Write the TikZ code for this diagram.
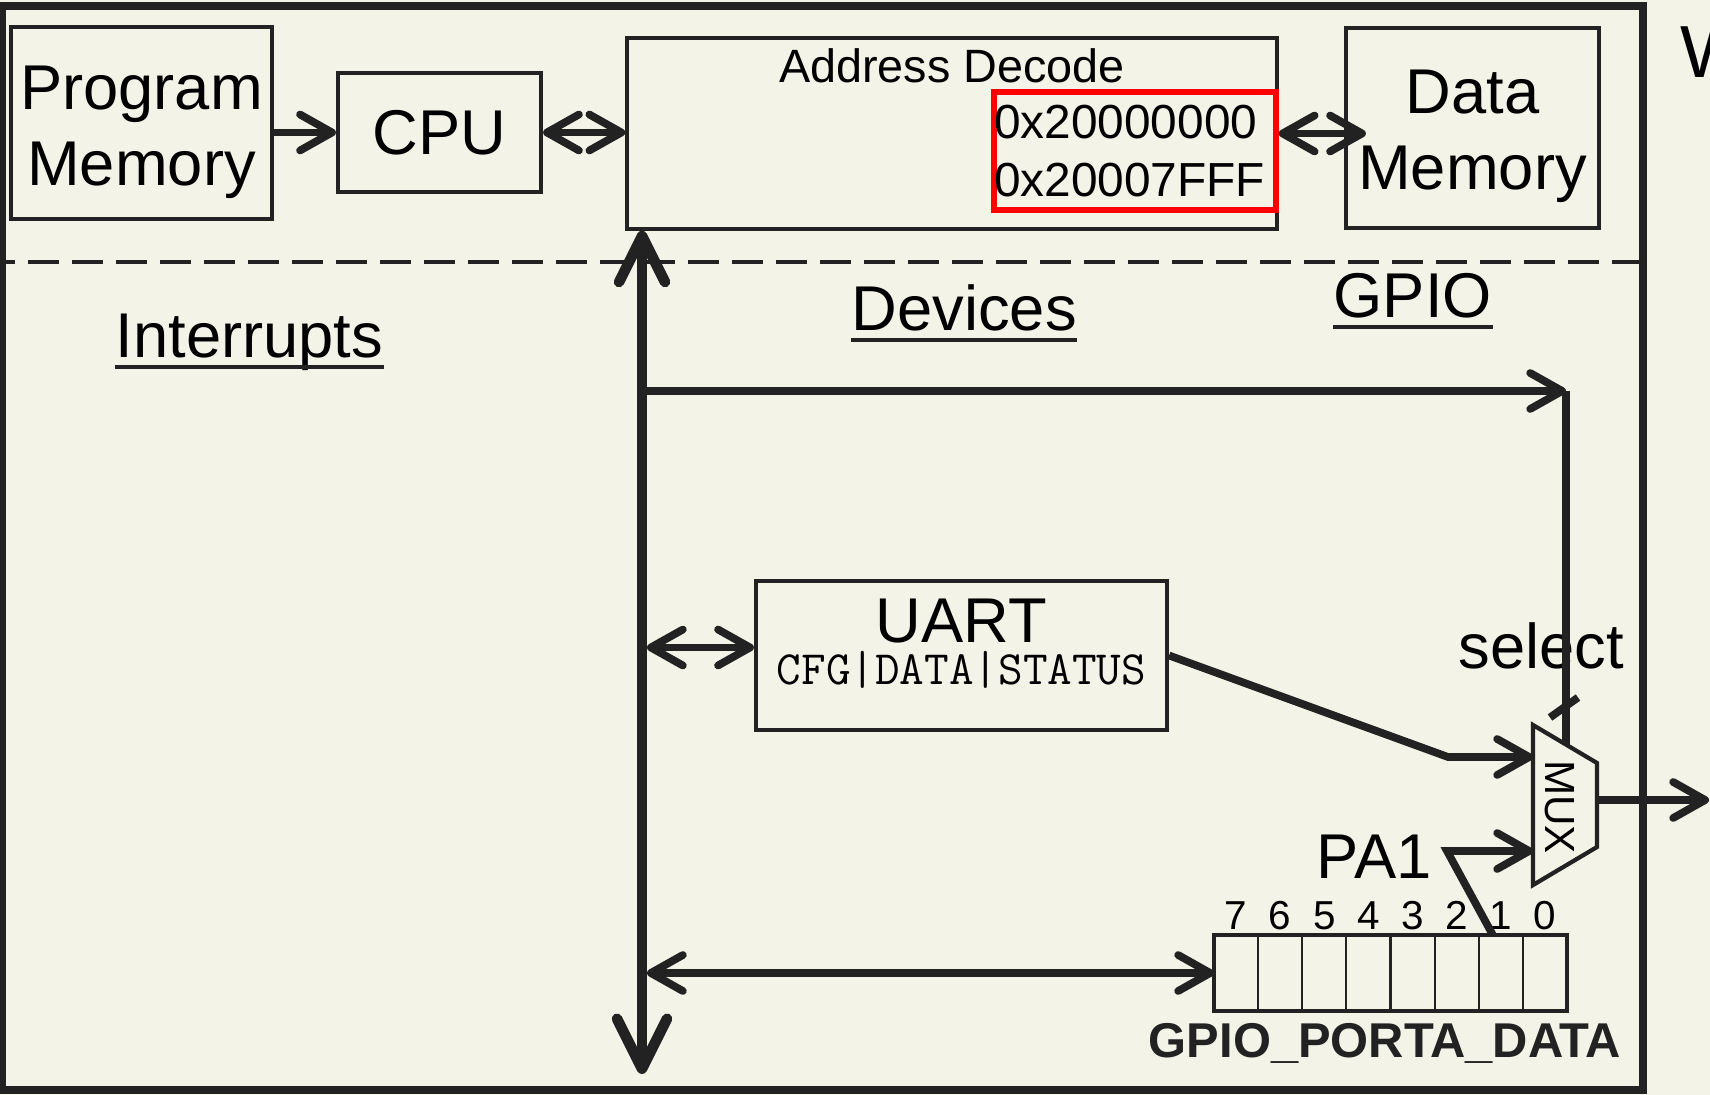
\documentclass[tikz,border=0pt]{standalone}
\usepackage{fontspec}
\setmainfont{Liberation Sans}
\usetikzlibrary{arrows.meta, positioning, calc}
\definecolor{paper}{RGB}{243,243,232}
\definecolor{ink}{RGB}{34,34,34}

\begin{document}
\begin{tikzpicture}[
    block/.style={draw=ink, line width=1.2pt, inner sep=0pt, align=center, font=\fontsize{18}{21.6}\selectfont},
    boxlbl/.style={inner sep=0pt, align=center, font=\fontsize{18}{21.6}\selectfont},
    heading/.style={inner sep=0pt, anchor=base west, font=\fontsize{18}{21.6}\selectfont},
    uline/.style={draw=ink, line width=1.1pt},
    wire/.style={draw=ink, line width=2.2pt},
    arrow/.style={-{Straight Barb[length=3.2mm, width=3.6mm, round]}, line width=2.2pt, draw=ink},
    darrow/.style={{Straight Barb[length=3.2mm, width=3.6mm, round]}-{Straight Barb[length=3.2mm, width=3.6mm, round]}, line width=2.2pt, draw=ink},
    bus/.style={{Straight Barb[length=4.6mm, width=4.6mm, round]}-{Straight Barb[length=5mm, width=5mm, round]}, line width=3pt, draw=ink},
    cell/.style={draw=ink, line width=0.6pt, minimum width=0.44125cm, minimum height=0.76cm, inner sep=0pt, outer sep=0pt},
    bitlbl/.style={inner sep=0pt, anchor=base, font=\fontsize{11.5}{13}\selectfont},
]
\useasboundingbox (0,0) rectangle (17.10,-10.95);
\fill[paper] (0,0) rectangle (17.10,-10.95);

% frame and split
\draw[ink, line width=2.2pt] (0.02,-0.06) rectangle (16.43,-10.90);
\draw[ink, line width=1.3pt, dash pattern=on 0.31cm off 0.13cm, dash phase=0.18cm] (0.02,-2.62) -- (16.43,-2.62);

% top row
\node[block, minimum width=2.61cm, minimum height=1.92cm] (progmem) at (1.415,-1.23) {};
\node[boxlbl] (progmemlbl) at ([yshift=-0.09cm]progmem.center) {Program\\Memory};
\node[block, minimum width=2.03cm, minimum height=1.19cm] (cpu) at (4.395,-1.325) {CPU};
\node[block, line width=1pt, minimum width=6.50cm, minimum height=1.91cm] (addr) at (9.52,-1.335) {};
\node[inner sep=0pt, anchor=base, font=\fontsize{13.3}{16}\selectfont] (addrlbl) at ([yshift=-0.46cm]addr.north) {Address Decode};
\node[draw=red, line width=1.5pt, minimum width=2.82cm, minimum height=1.18cm, inner sep=0pt] (range) at (11.35,-1.51) {};
\node[inner sep=0pt, anchor=north west, align=left, font=\fontsize{13.6}{16.4}\selectfont] (rangetxt) at ([shift={(0.02,-0.15)}]range.north west) {0x20000000\\0x20007FFF};
\node[block, minimum width=2.53cm, minimum height=2.00cm] (dmem) at (14.725,-1.28) {};
\node[boxlbl] (dmemlbl) at ([yshift=-0.08cm]dmem.center) {Data\\Memory};
\node[inner sep=0pt, anchor=base west, font=\fontsize{21}{25}\selectfont] (wlbl) at (16.80,-0.78) {W};

\draw[arrow] (progmem.east |- cpu.west) -- (cpu.west);
\draw[darrow] (cpu.east) -- (cpu.east -| addr.west);
\draw[darrow, shorten >=-0.22cm] (addr.east) -- (addr.east -| dmem.west);

% section titles
\node[heading] (intr) at (1.15,-3.58) {Interrupts};
\node[heading] (devs) at (8.51,-3.31) {Devices};
\node[heading] (gpio) at (13.33,-3.18) {GPIO};
\draw[uline] ([yshift=-0.09cm]intr.base west) -- ([yshift=-0.09cm]intr.base east);
\draw[uline] ([yshift=-0.09cm]devs.base west) -- ([yshift=-0.09cm]devs.base east);
\draw[uline] ([yshift=-0.09cm]gpio.base west) -- ([yshift=-0.09cm]gpio.base east);

% bus
\coordinate (bustop) at (6.42,0 |- addr.south);
\coordinate (busbot) at (6.42,-10.74);
\coordinate (busr) at (6.47,0);
\draw[bus] (bustop) -- (busbot);

% UART
\node[block, minimum width=4.11cm, minimum height=1.49cm] (uart) at (9.615,-6.555) {};
\node[inner sep=0pt, anchor=base, font=\fontsize{18}{21.6}\selectfont] (uartlbl) at ([yshift=-0.64cm]uart.north) {UART};
\node[inner sep=0pt, anchor=base, font=\ttfamily\fontsize{13.6}{15}\selectfont] (uartregs) at ([yshift=-1.06cm]uart.north) {CFG|DATA|STATUS};
\coordinate (uartport) at ([yshift=0.08cm]uart.west);
\draw[darrow] (busr |- uartport) -- (uartport);

% MUX
\draw[ink, line width=1.2pt] (15.33,-7.25) -- (15.97,-7.63) -- (15.97,-8.47) -- (15.33,-8.85) -- cycle;
\node[rotate=-90, inner sep=0pt, font=\fontsize{12}{14}\selectfont] (muxlbl) at (15.60,-8.07) {MUX};
\coordinate (muxa) at (15.33,-7.57);
\coordinate (muxb) at (15.33,-8.51);
\coordinate (muxo) at (15.97,-8.00);
\coordinate (muxs) at (15.66,-7.445);
\coordinate (outend) at (17.09,-8.00);
\draw[arrow] (muxo) -- (outend);

% select
\coordinate (selcorner) at (15.66,-3.91);
\node[inner sep=0pt, anchor=base, font=\fontsize{18}{21.6}\selectfont] (sellbl) at (15.41,-6.68) {select};
\draw[arrow] (busr |- selcorner) -- (selcorner);
\draw[wire] (selcorner) -- (muxs);
\draw[wire] ([shift={(-0.16,0.27)}]muxs) -- ([shift={(0.12,0.47)}]muxs);

\coordinate (uartbend) at (14.48,-7.57);
\draw[arrow] (uart.east) -- (uartbend) -- (muxa);

% port register
\foreach \b in {0,...,7}
    \node[cell] (bit\b) at ({15.67-(\b+0.5)*0.44125}, -9.73) {};
\draw[ink, line width=1.3pt] (bit7.north west) rectangle (bit0.south east);
\foreach \b in {0,...,7}
    \node[bitlbl] (num\b) at ([yshift=0.06cm]bit\b.north) {\b};
\node[inner sep=0pt, anchor=base, text=ink, font=\bfseries\fontsize{13.9}{16}\selectfont] (regname) at (13.85,-10.57) {GPIO\_PORTA\_DATA};
\draw[darrow] (busr |- bit7.west) -- (bit7.west);

\node[heading] (pa1) at (13.16,-8.78) {PA1};
\coordinate (pa1bend) at (14.47,-8.51);
\draw[arrow] ([xshift=-0.08cm]bit1.north) -- (pa1bend) -- (muxb);

\end{tikzpicture}
\end{document}
